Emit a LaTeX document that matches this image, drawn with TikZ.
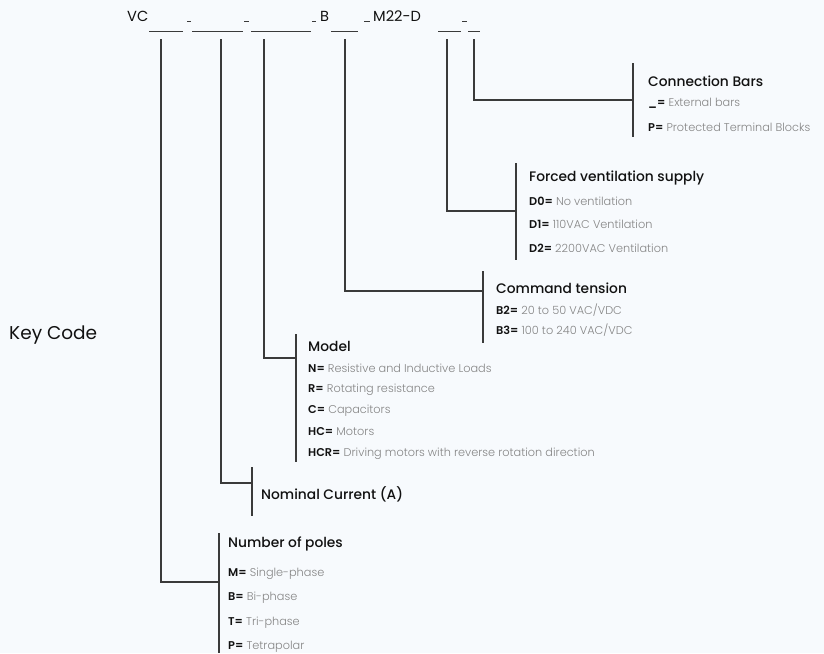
\documentclass[tikz,border=0pt]{standalone}
\usepackage{fontspec}
\setmainfont{Poppins}
\newfontfamily\lightf{Poppins Light}
\newfontfamily\medf{Poppins Medium}
\newfontfamily\semif{Poppins SemiBold}
\definecolor{bg}{HTML}{F7FAFD}
\definecolor{ln}{HTML}{3A3A3A}
\definecolor{ttl}{HTML}{111111}
\definecolor{desc}{HTML}{858585}
\newcommand{\kk}[1]{\textcolor{ttl}{\semif #1}}
\begin{document}
\begin{tikzpicture}[x=1pt,y=-1pt,
  title/.style={anchor=west,inner sep=0pt,font=\medf\fontsize{13.8}{16}\selectfont,text=ttl},
  opt/.style={anchor=west,inner sep=0pt,font=\lightf\fontsize{11.3}{13}\selectfont,text=desc},
  top/.style={anchor=base west,inner sep=0pt,font=\fontsize{14.6}{17}\selectfont,text=ttl},
  conn/.style={draw=ln,line width=1.2pt},
  bar/.style={draw=ln,line width=1.4pt},
  uline/.style={draw=ln,line width=1pt}]
\fill[bg] (0,0) rectangle (824,653);
\useasboundingbox (0,0) rectangle (824,653);

% top code row
\node[top] (vc) at (127,21) {VC};
\node[top] (bb) at (320,21) {B};
\node[top] (mm) at (373,21) {M22-D};
\foreach \a/\b in {149/183,192/243,251/311,331/358,438/461,468/480}
  \draw[uline] (\a,31) -- (\b,31);
\foreach \a/\b in {187/191,244/249,312/316,364/370,462/467}
  \draw[uline] (\a,21) -- (\b,21);

% connector tops
\coordinate (t1) at (161,39);
\coordinate (t2) at (221,39);
\coordinate (t3) at (264,39);
\coordinate (t4) at (345,39);
\coordinate (t5) at (447,39);
\coordinate (t6) at (474,39);

% Connection Bars
\coordinate (cbA) at (633,63); \coordinate (cbB) at (633,137);
\coordinate (cbM) at (633,100);
\draw[bar] (cbA) -- (cbB);
\draw[conn] (t6) |- (cbM);
\node[title] (cbT) at (648,81) {Connection Bars};
\node[opt] (cb1) at (648,103) {\kk{\_=} External bars};
\node[opt] (cb2) at (648,127) {\kk{P=} Protected Terminal Blocks};

% Forced ventilation
\coordinate (fvA) at (516,163); \coordinate (fvB) at (516,260);
\coordinate (fvM) at (516,211);
\draw[bar] (fvA) -- (fvB);
\draw[conn] (t5) |- (fvM);
\node[title] (fvT) at (529,178) {Forced ventilation supply};
\node[opt] (fv1) at (529,201) {\kk{D0=} No ventilation};
\node[opt] (fv2) at (529,224) {\kk{D1=} 110VAC Ventilation};
\node[opt] (fv3) at (529,248) {\kk{D2=} 2200VAC Ventilation};

% Command tension
\coordinate (ctA) at (483,271); \coordinate (ctB) at (483,343);
\coordinate (ctM) at (483,291);
\draw[bar] (ctA) -- (ctB);
\draw[conn] (t4) |- (ctM);
\node[title] (ctT) at (496,288) {Command tension};
\node[opt] (ct1) at (496,310) {\kk{B2=} 20 to 50 VAC/VDC};
\node[opt] (ct2) at (496,330) {\kk{B3=} 100 to 240 VAC/VDC};

% Model
\coordinate (mdA) at (296,334); \coordinate (mdB) at (296,462);
\coordinate (mdM) at (296,358);
\draw[bar] (mdA) -- (mdB);
\draw[conn] (t3) |- (mdM);
\node[title] (mdT) at (308,346) {Model};
\node[opt] (md1) at (308,368) {\kk{N=} Resistive and Inductive Loads};
\node[opt] (md2) at (308,390) {\kk{R=} Rotating resistance};
\node[opt] (md3) at (308,411) {\kk{C=} Capacitors};
\node[opt] (md4) at (308,432) {\kk{HC=} Motors};
\node[opt] (md5) at (308,454) {\kk{HCR=} Driving motors with reverse rotation direction};

% Nominal current
\coordinate (ncA) at (252,467); \coordinate (ncB) at (252,516);
\coordinate (ncM) at (252,483);
\draw[bar] (ncA) -- (ncB);
\draw[conn] (t2) |- (ncM);
\node[title] (ncT) at (261,494) {Nominal Current (A)};

% Number of poles
\coordinate (npA) at (219,533); \coordinate (npB) at (219,653);
\coordinate (npM) at (219,582);
\draw[bar] (npA) -- (npB);
\draw[conn] (t1) |- (npM);
\node[title] (npT) at (228,544) {Number of poles};
\node[opt] (np1) at (228,574) {\kk{M=} Single-phase};
\node[opt] (np2) at (228,598) {\kk{B=} Bi-phase};
\node[opt] (np3) at (228,623) {\kk{T=} Tri-phase};
\node[opt] (np4) at (228,647) {\kk{P=} Tetrapolar};

% Key code
\node[anchor=base west,inner sep=0pt,font=\fontsize{18.5}{22}\selectfont,text=ttl] (kc) at (9,339) {Key Code};
\end{tikzpicture}
\end{document}
